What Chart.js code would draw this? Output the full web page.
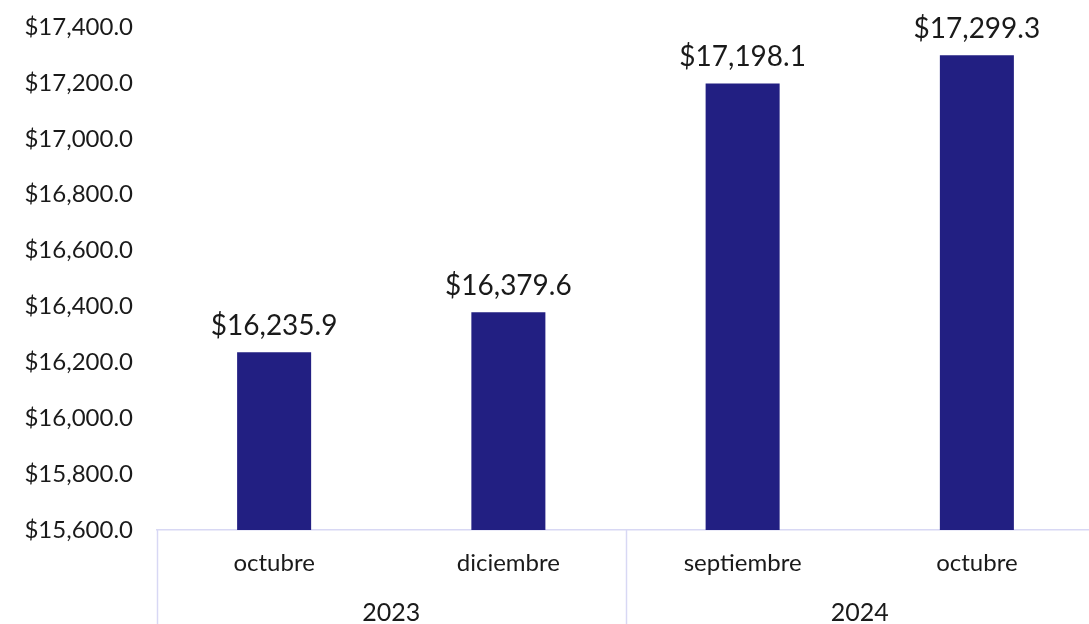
<!DOCTYPE html>
<html>
<head>
<meta charset="utf-8">
<script src="https://cdn.jsdelivr.net/npm/chart.js@4"></script>
<style>
  html, body { margin: 0; padding: 0; background: #fff; overflow: hidden; }
  #wrap { width: 1094px; height: 624px; position: relative; }
</style>
</head>
<body>
<div id="wrap"><canvas id="chart"></canvas></div>
<script>
const months = ["octubre", "diciembre", "septiembre", "octubre"];
const years = ["2023", "2024"];
const monthsPerYear = [2, 2];
const values = [16235.9, 16379.6, 17198.1, 17299.3];
const yMin = 15600;
const yMax = 17400;
const yStep = 200;

const BAR = "#221f82";
const LINE = "#d8d8f4";
const TEXT = "#1a1a1a";

function money(n) {
  return "$" + n.toLocaleString("en-US", { minimumFractionDigits: 1, maximumFractionDigits: 1 });
}

Chart.defaults.font.family = "Lato, 'Noto Sans', sans-serif";
Chart.defaults.color = TEXT;

// value labels above each bar
const barLabels = {
  id: "barLabels",
  afterDatasetsDraw(chart) {
    const { ctx } = chart;
    const meta = chart.getDatasetMeta(0);
    ctx.save();
    ctx.font = "28px Lato, 'Noto Sans', sans-serif";
    ctx.fillStyle = TEXT;
    ctx.textAlign = "center";
    ctx.textBaseline = "bottom";
    meta.data.forEach((bar, i) => {
      ctx.fillText(money(values[i]), bar.x, bar.y - 12);
    });
    ctx.restore();
  }
};

// vertical separators between year groups, below the axis line
const yearLines = {
  id: "yearLines",
  afterDraw(chart) {
    const { ctx, chartArea } = chart;
    const x = chart.scales.x;
    ctx.save();
    ctx.strokeStyle = LINE;
    ctx.lineWidth = 1.5;
    let idx = 0;
    const bounds = [0];
    monthsPerYear.forEach(n => { idx += n; bounds.push(idx); });
    bounds.forEach(b => {
      const px = Math.round(x.getPixelForValue(b - 0.5)) + 0.5;
      ctx.beginPath();
      ctx.moveTo(px, chartArea.bottom);
      ctx.lineTo(px, chart.height);
      ctx.stroke();
    });
    ctx.restore();
  }
};

new Chart(document.getElementById("chart"), {
  type: "bar",
  data: {
    labels: months,
    datasets: [{
      data: values,
      backgroundColor: BAR,
      borderWidth: 0,
      categoryPercentage: 1,
      barPercentage: 0.316,
      xAxisID: "x",
    }],
  },
  options: {
    responsive: true,
    maintainAspectRatio: false,
    animation: false,
    layout: { padding: { top: 27, right: 0, left: 0, bottom: 0 } },
    plugins: {
      legend: { display: false },
      tooltip: { enabled: false },
    },
    scales: {
      y: {
        min: yMin,
        max: yMax,
        ticks: {
          stepSize: yStep,
          padding: 24,
          font: { size: 24 },
          color: TEXT,
          callback: v => money(v),
        },
        grid: { display: false, drawTicks: false },
        border: { display: false },
        afterFit: s => { s.width = 157; s.paddingTop = 0; s.paddingBottom = 0; },
      },
      x: {
        weight: 0,
        offset: true,
        ticks: { padding: 19, font: { size: 24 }, color: TEXT, maxRotation: 0, autoSkip: false },
        grid: { display: false, drawTicks: false },
        border: { display: true, color: LINE, width: 1.5 },
        afterFit: s => { s.height = 55; },
      },
      x2: {
        type: "category",
        labels: years,
        position: "bottom",
        weight: 1,
        offset: true,
        ticks: { padding: 13, font: { size: 25 }, color: TEXT, maxRotation: 0 },
        grid: { display: false, drawTicks: false },
        border: { display: false },
        afterFit: s => { s.height = 39; },
      },
    },
  },
  plugins: [barLabels, yearLines],
});
</script>
</body>
</html>
